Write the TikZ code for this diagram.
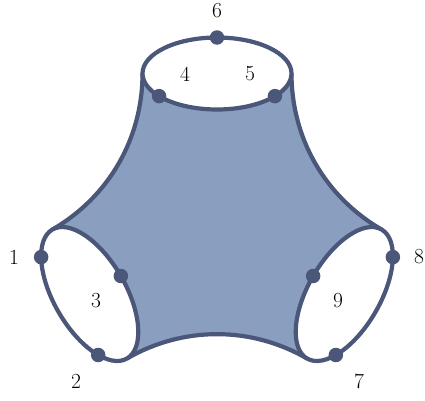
\documentclass[tikz,border=0pt]{standalone}
\usetikzlibrary{calc}
\definecolor{edgec}{HTML}{4A5779}
\definecolor{bodyc}{HTML}{8A9FC0}
\begin{document}
\begin{tikzpicture}[x=1pt,y=1pt,
  rim/.style={draw=edgec,line width=4.2pt,fill=white},
  side/.style={draw=edgec,line width=4.2pt},
  pt/.style={circle,fill=edgec,inner sep=0pt,minimum size=14.5pt},
  lab/.style={font=\fontsize{21.5}{26}\selectfont,inner sep=0pt}]
\useasboundingbox (0,0) rectangle (425,400);
% ellipse key points
\begin{scope}[shift={(217,326.5)}]
  \coordinate (T0) at (0:74.5 and 36);
  \coordinate (T180) at (180:74.5 and 36);
  \coordinate (d6) at (90:74.5 and 36);
  \coordinate (d4) at (219:74.5 and 36);
  \coordinate (d5) at (321:74.5 and 36);
\end{scope}
\begin{scope}[shift={(89.7,106)},rotate=120]
  \coordinate (L0) at (0:74.5 and 36);
  \coordinate (L180) at (180:74.5 and 36);
  \coordinate (d1) at (41:74.5 and 36);
  \coordinate (d2) at (140:74.5 and 36);
  \coordinate (d3) at (270:74.5 and 36);
\end{scope}
\begin{scope}[shift={(344.3,106)},rotate=-120]
  \coordinate (R0) at (0:74.5 and 36);
  \coordinate (R180) at (180:74.5 and 36);
  \coordinate (d8) at (139:74.5 and 36);
  \coordinate (d7) at (40:74.5 and 36);
  \coordinate (d9) at (270:74.5 and 36);
\end{scope}
% body
\fill[bodyc] (T180) .. controls +(0,-65) and +(56.3,32.5) .. (L0) -- (L180)
  .. controls +(56.3,32.5) and +(-56.3,32.5) .. (R0) -- (R180)
  .. controls +(-56.3,32.5) and +(0,-65) .. (T0) -- cycle;
\draw[side] (T180) .. controls +(0,-65) and +(56.3,32.5) .. (L0);
\draw[side] (L180) .. controls +(56.3,32.5) and +(-56.3,32.5) .. (R0);
\draw[side] (R180) .. controls +(-56.3,32.5) and +(0,-65) .. (T0);
% rims
\draw[rim] (217,326.5) ellipse [x radius=74.5, y radius=36];
\draw[rim,rotate around={120:(89.7,106)}] (89.7,106) ellipse [x radius=74.5, y radius=36];
\draw[rim,rotate around={-120:(344.3,106)}] (344.3,106) ellipse [x radius=74.5, y radius=36];
% dots
\foreach \i in {1,...,9} {\node[pt] (p\i) at (d\i) {};}
% labels
\node[lab] (l6) at (217,389) {6};
\node[lab] (l4) at (185,326) {4};
\node[lab] (l5) at (250,326) {5};
\node[lab] (l1) at (14,143) {1};
\node[lab] (l3) at (96,99) {3};
\node[lab] (l2) at (76,19) {2};
\node[lab] (l8) at (419,143) {8};
\node[lab] (l9) at (338,99) {9};
\node[lab] (l7) at (359,19) {7};
\end{tikzpicture}
\end{document}
